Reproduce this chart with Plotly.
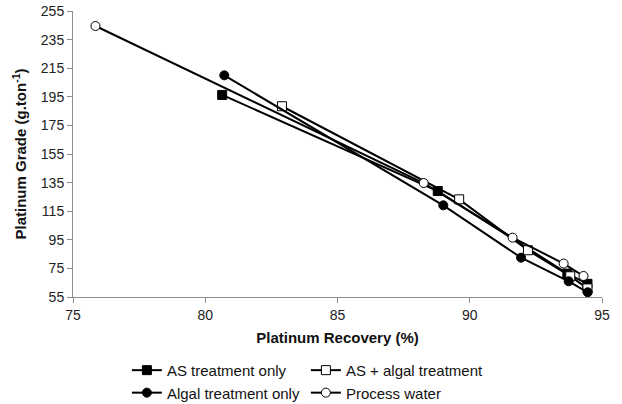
import plotly.graph_objects as go

# Platinum recovery (%) and grade (g/t) for each water treatment
as_only_recovery = [80.64, 88.79, 93.69, 94.45]
as_only_grade = [196.3, 129.1, 71.4, 64.2]

as_algal_recovery = [82.9, 89.6, 92.2, 93.8, 94.45]
as_algal_grade = [188.4, 123.3, 87.7, 69.5, 61.0]

algal_only_recovery = [80.72, 89.0, 91.94, 93.74, 94.46]
algal_only_grade = [210.0, 119.1, 82.5, 66.0, 58.3]

process_recovery = [75.85, 88.26, 91.62, 93.55, 94.3]
process_grade = [244.5, 134.7, 96.5, 78.4, 69.7]

x_ticks = [75, 80, 85, 90, 95]
y_ticks = [55, 75, 95, 115, 135, 155, 175, 195, 215, 235, 255]

FONT = "Liberation Sans, Arial, sans-serif"

series = [
    ("AS treatment only", as_only_recovery, as_only_grade, "square", "black"),
    ("AS + algal treatment", as_algal_recovery, as_algal_grade, "square", "white"),
    ("Algal treatment only", algal_only_recovery, algal_only_grade, "circle", "black"),
    ("Process water", process_recovery, process_grade, "circle", "white"),
]

fig = go.Figure()
for name, xs, ys, symbol, fill in series:
    fig.add_trace(go.Scatter(
        x=xs, y=ys, name=name, mode="lines+markers",
        line=dict(color="black", width=2),
        marker=dict(symbol=symbol, size=9, color=fill,
                    line=dict(color="black", width=1)),
    ))

fig.update_layout(
    width=622, height=404,
    margin=dict(l=73, r=20, t=11, b=107, autoexpand=False),
    paper_bgcolor="white", plot_bgcolor="white",
    font=dict(family=FONT, size=14, color="#222"),
    showlegend=True,
    legend=dict(
        orientation="h", xref="container", yref="container",
        x=0.204, xanchor="left", y=0.124, yanchor="top",
        entrywidth=134, font=dict(size=15, color="#111"),
        itemwidth=30, tracegroupgap=0,
    ),
)
fig.update_xaxes(
    range=[75, 95], tickvals=x_ticks, showgrid=False, zeroline=False,
    showline=True, linecolor="#8c8c8c", linewidth=1,
    ticks="outside", ticklen=5, tickcolor="#8c8c8c",
    tickfont=dict(size=14, color="#222"),
    title=dict(text="<b>Platinum Recovery (%)</b>", font=dict(size=15, color="#111"), standoff=10),
)
fig.update_yaxes(
    range=[55, 255], tickvals=y_ticks, showgrid=False, zeroline=False,
    showline=True, linecolor="#8c8c8c", linewidth=1,
    ticks="outside", ticklen=5, tickcolor="#8c8c8c",
    tickfont=dict(size=14, color="#222"),
    title=dict(text="<b>Platinum Grade (g.ton<sup>-1</sup>)</b>", font=dict(size=15, color="#111"), standoff=10),
)

fig.write_html("out.html")
